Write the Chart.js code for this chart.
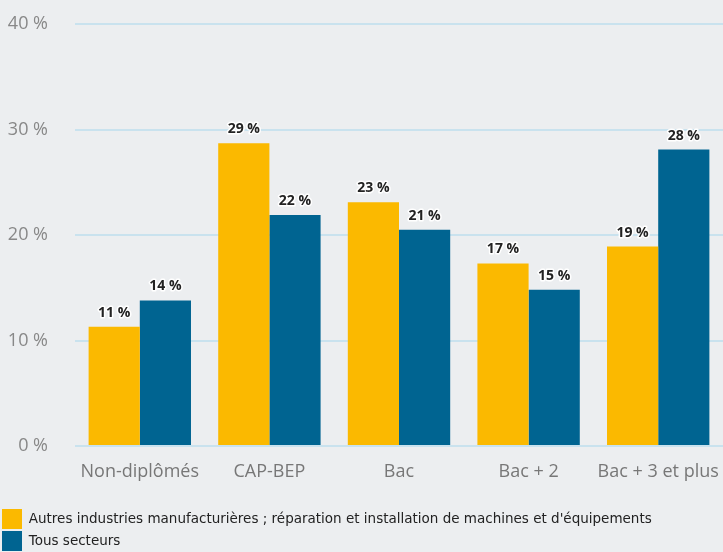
<!DOCTYPE html>
<html>
<head>
<meta charset="utf-8">
<script src="https://cdn.jsdelivr.net/npm/chart.js@4"></script>
<style>
    html, body { margin: 0; padding: 0; background: #eceef0; overflow: hidden; }
    #wrap { width: 723px; height: 552px; position: relative; }
    canvas { display: block; }
</style>
</head>
<body>
<div id="wrap"><canvas id="diplomeChart"></canvas></div>
<script>
const categories = ['Non-diplômés', 'CAP-BEP', 'Bac', 'Bac + 2', 'Bac + 3 et plus'];
const seriesNames = [
    "Autres industries manufacturières ; réparation et installation de machines et d'équipements",
    'Tous secteurs'
];
const industrieValues = [11.3, 28.7, 23.1, 17.3, 18.9];
const tousSecteursValues = [13.8, 21.9, 20.5, 14.8, 28.1];
const yTicks = [0, 10, 20, 30, 40];

// labels au-dessus des barres
const barLabels = {
    id: 'barLabels',
    afterDatasetsDraw(chart) {
        const ctx = chart.ctx;
        ctx.save();
        ctx.font = 'bold 14px "Open Sans", sans-serif';
        ctx.textAlign = 'center';
        ctx.textBaseline = 'bottom';
        ctx.lineJoin = 'round';
        chart.data.datasets.forEach((ds, i) => {
            chart.getDatasetMeta(i).data.forEach((bar, j) => {
                const txt = Math.round(ds.data[j]) + ' %';
                ctx.lineWidth = 3;
                ctx.strokeStyle = '#ffffff';
                ctx.strokeText(txt, bar.x, bar.y - 7);
                ctx.fillStyle = '#222';
                ctx.fillText(txt, bar.x, bar.y - 7);
            });
        });
        ctx.restore();
    }
};

const ctx = document.getElementById('diplomeChart').getContext('2d');
const diplomeChart = new Chart(ctx, {
    type: 'bar',
    data: {
        labels: categories,
        datasets: [{
            label: seriesNames[0],
            data: industrieValues,
            backgroundColor: '#fbb900',
            borderWidth: 0
        }, {
            label: seriesNames[1],
            data: tousSecteursValues,
            backgroundColor: '#006491',
            borderWidth: 0
        }]
    },
    options: {
        responsive: true,
        maintainAspectRatio: false,
        animation: false,
        datasets: {
            bar: {
                barPercentage: 1,
                categoryPercentage: 0.79
            }
        },
        layout: {
            autoPadding: false,
            padding: { top: 24, right: -2, left: 0, bottom: -9 }
        },
        plugins: {
            legend: {
                position: 'bottom',
                align: 'start',
                labels: {
                    boxWidth: 20,
                    boxHeight: 20,
                    padding: 2,
                    color: '#222',
                    font: { size: 13.5, family: '"DejaVu Sans", sans-serif' }
                }
            },
            tooltip: { enabled: false }
        },
        scales: {
            x: {
                afterFit(scale) {
                    scale.height = 61;
                    scale.paddingLeft = 0;
                    scale.paddingRight = 0;
                },
                grid: { display: false },
                border: { display: false },
                ticks: {
                    color: '#777',
                    padding: 7,
                    maxRotation: 0,
                    autoSkip: false,
                    font: { size: 18, family: '"Open Sans", sans-serif' }
                }
            },
            y: {
                min: 0,
                max: 40,
                afterFit(scale) {
                    scale.width = 75;
                    scale.paddingTop = 0;
                    scale.paddingBottom = 0;
                },
                afterBuildTicks(scale) { scale.ticks = yTicks.map(v => ({ value: v })); },
                grid: { color: '#c9e2ee', lineWidth: 2, drawTicks: false },
                border: { display: false },
                ticks: {
                    color: '#888',
                    padding: 27,
                    font: { size: 18, family: '"Open Sans", sans-serif' },
                    callback: v => v + ' %'
                }
            }
        }
    },
    plugins: [barLabels]
});
</script>
</body>
</html>
